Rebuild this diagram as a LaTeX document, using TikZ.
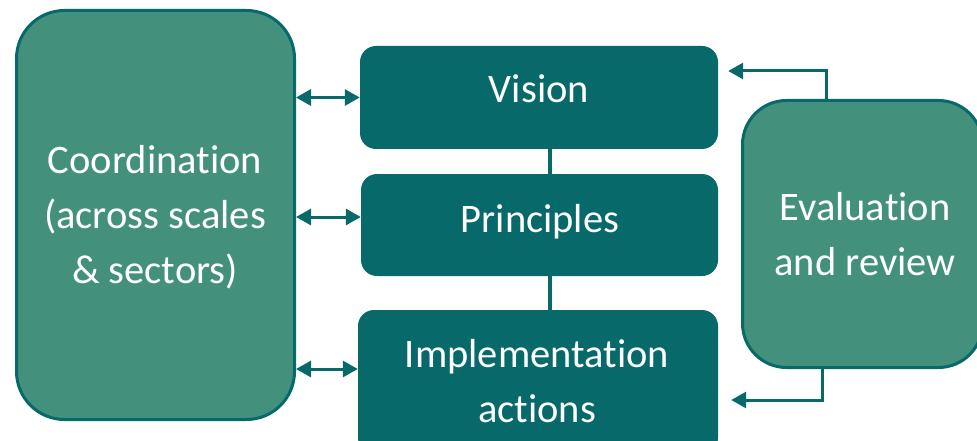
\documentclass[tikz,border=0pt]{standalone}
\usepackage{fontspec}
\setmainfont{Carlito}[Ligatures=NoCommon]
\usetikzlibrary{arrows.meta,calc}
\definecolor{dteal}{HTML}{07696A}
\definecolor{mteal}{HTML}{43907D}
\begin{document}
\begin{tikzpicture}[x=1pt,y=-1pt,
  bigbox/.style={draw=dteal,line width=3pt,fill=mteal,rounded corners=48pt,inner sep=0pt},
  stepbox/.style={fill=dteal,rounded corners=16pt,inner sep=0pt},
  txt/.style={text=white,align=center,font=\fontsize{40.5}{55}\selectfont,inner sep=0pt},
  link/.style={draw=dteal,line width=3pt},
  vlink/.style={draw=dteal,line width=4pt},
  tip/.tip={Triangle[length=15pt,width=16pt]},
  dbl/.style={link,tip-tip},
  fb/.style={link,-tip}]
\useasboundingbox (0,0) rectangle (977,441);
\clip (0,0) rectangle (977,441);
% boxes
\node[bigbox,minimum width=278pt,minimum height=409pt] (coord) at (155.5,215) {};
\node[stepbox,minimum width=358pt,minimum height=103pt] (vision) at (539,97.5) {};
\node[stepbox,minimum width=357pt,minimum height=102pt] (princ) at (539.5,225) {};
\node[stepbox,minimum width=360pt,minimum height=144pt] (impl) at (538,382) {};
\node[bigbox,rounded corners=44pt,minimum width=240pt,minimum height=267pt] (eval) at (862.5,234) {};
% texts
\node[txt,anchor=base] (tcoord) at (155,283) {Coordination\\(across scales\\\& sectors)};
\node[txt,anchor=base] (tvision) at (539,103) {Vision};
\node[txt,anchor=base] (tprinc) at (540,232) {Principles};
\node[txt,anchor=base] (timpl) at (537,422) {Implementation\\actions};
\node[txt,anchor=base] (teval) at (865,275) {Evaluation\\and review};
% vertical links
\coordinate (vx) at (550,0);
\draw[vlink] (vision.south -| vx) -- (princ.north -| vx);
\draw[vlink] (princ.south -| vx) -- (impl.north -| vx);
% double arrows
\draw[dbl] (coord.east |- vision.west) -- (vision.west);
\draw[dbl] ($(coord.east |- princ.west)+(0,-8)$) -- ($(princ.west)+(0,-8)$);
\draw[dbl] ($(coord.east |- impl.west)+(0,-13)$) -- ($(impl.west)+(0,-13)$);
% feedback arrows
\coordinate (ftop) at (826,71);
\coordinate (fbot) at (822,400);
\draw[fb] (eval.north -| ftop) -- (ftop) -- ($(vision.east |- ftop)+(10,0)$);
\draw[fb] (eval.south -| fbot) -- (fbot) -- ($(impl.east |- fbot)+(13,0)$);
\end{tikzpicture}
\end{document}
